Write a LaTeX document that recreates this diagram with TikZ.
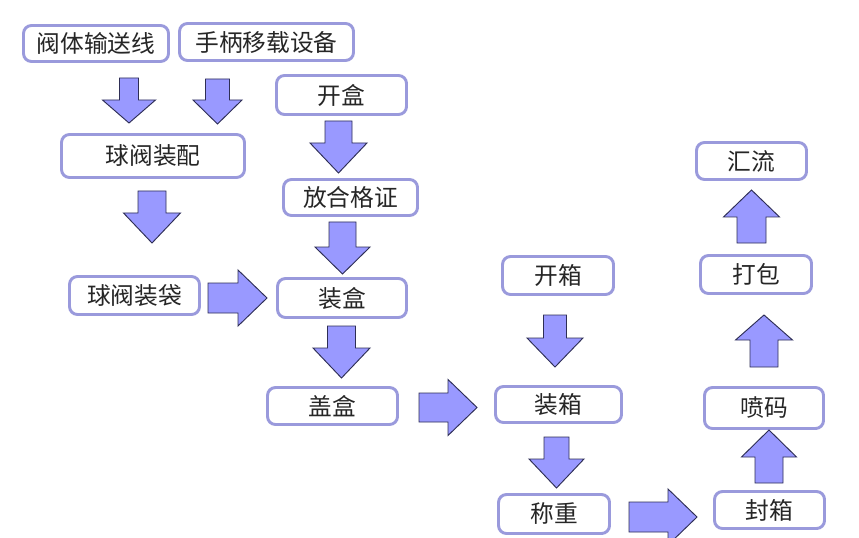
\documentclass[tikz,border=0pt]{standalone}
\usepackage{fontspec}
\newfontfamily\cjk{Noto Sans CJK SC}
\definecolor{boxline}{HTML}{9A9ADC}
\definecolor{arrfill}{HTML}{9999FF}
\definecolor{arrline}{HTML}{2E2E55}
\tikzset{
  box/.style={draw=boxline, line width=2.2pt, rounded corners=6pt, fill=white,
    inner sep=0pt, font={\cjk\fontsize{17.8}{17.8}\selectfont}, text=black!85},
  blockarrow/.style={draw=arrline, fill=arrfill, line width=0.7pt, line join=miter}
}
% box: name, cx, cy, w, h, text (pixel units)
\newcommand\bx[6]{\node[box, minimum width={(#4-3)*0.75pt}, minimum height={(#5-3)*0.75pt}] (#1) at (#2,#3) {\raisebox{-1.6pt}{#6}};}
% vertical block arrow: cx, shaft end, shaft half width, head base, head half width, tip
\newcommand\varr[6]{\draw[blockarrow] ({#1-#3},#2) -- ({#1+#3},#2) -- ({#1+#3},#4) -- ({#1+#5},#4) -- (#1,#6) -- ({#1-#5},#4) -- ({#1-#3},#4) -- cycle;}
% horizontal block arrow: cy, shaft start, shaft half height, head base, head half height, tip
\newcommand\harr[6]{\draw[blockarrow] (#2,{#1-#3}) -- (#4,{#1-#3}) -- (#4,{#1-#5}) -- (#6,#1) -- (#4,{#1+#5}) -- (#4,{#1+#3}) -- (#2,{#1+#3}) -- cycle;}
\begin{document}
\begin{tikzpicture}[x=0.75pt,y=-0.75pt]
\useasboundingbox (0,0) rectangle (859,538);
\clip (0,0) rectangle (859,538);
\fill[white] (0,0) rectangle (859,538);

\bx{fts}{96}{43.5}{148}{39}{阀体输送线}
\bx{sbyz}{266.5}{42}{177}{40}{手柄移载设备}
\bx{kh}{341.5}{95}{133}{42}{开盒}
\bx{qfzp}{153}{156}{186}{46}{球阀装配}
\bx{fhgz}{350.5}{197.5}{137}{39}{放合格证}
\bx{qfzd}{134.5}{295.5}{133}{41}{球阀装袋}
\bx{zh}{342}{298}{132}{42}{装盒}
\bx{gh}{332.5}{406}{133}{40}{盖盒}
\bx{kx}{558}{275.5}{114}{41}{开箱}
\bx{zx}{558.5}{404.5}{129}{39}{装箱}
\bx{cz}{554}{514}{114}{42}{称重}
\bx{fx}{769.5}{510}{113}{40}{封箱}
\bx{pm}{764}{408}{122}{44}{喷码}
\bx{db}{756}{274.5}{114}{41}{打包}
\bx{hl}{751.5}{161}{113}{40}{汇流}

% down arrows
\varr{129}{78}{9.5}{100}{26.5}{123}
\varr{217.5}{79}{12}{100}{24.5}{124}
\varr{338.5}{121}{13.5}{143}{28.5}{173}
\varr{152}{191}{14}{213}{28.5}{243}
\varr{342.5}{222}{13.5}{247}{27.5}{274}
\varr{341.5}{326}{14}{348}{28.5}{378}
\varr{555}{315}{11.5}{338}{28}{367}
\varr{556.5}{437}{12.5}{459}{27.5}{488}
% up arrows
\varr{769}{483}{14}{457}{27.5}{430}
\varr{764}{367}{14}{340}{28.5}{315}
\varr{751.5}{243}{14.5}{217}{28}{190}
% right arrows
\harr{298}{208}{15}{238}{28}{267}
\harr{407.5}{419}{14.5}{448}{28}{477}
\harr{517}{629}{15}{668}{28}{697}
\end{tikzpicture}
\end{document}
